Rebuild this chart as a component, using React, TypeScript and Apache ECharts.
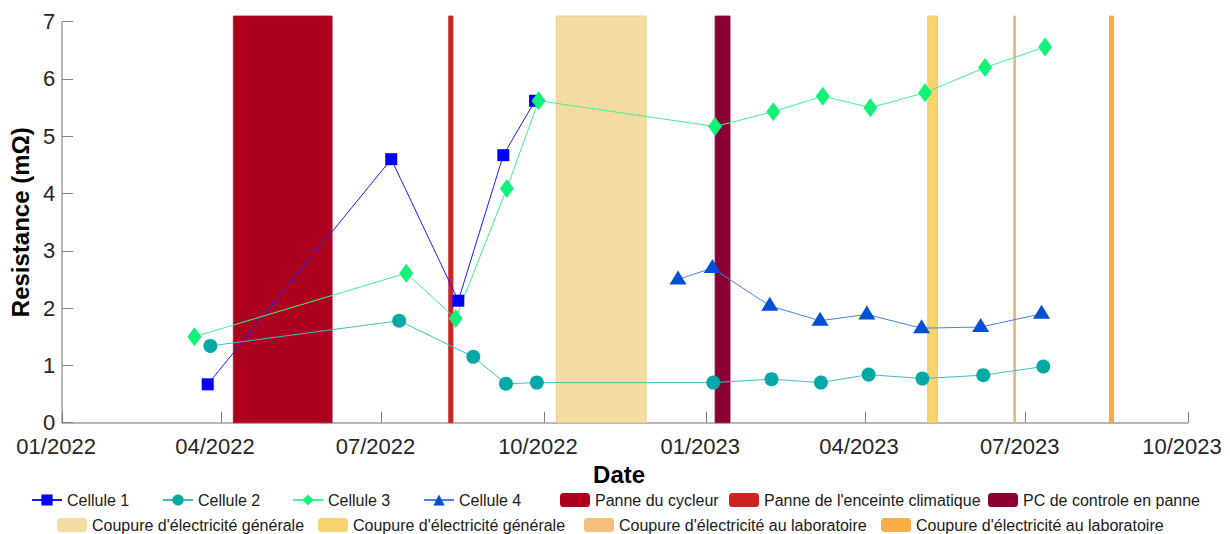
import React, { useEffect, useRef } from 'react';
import * as echarts from 'echarts';

// ---------- data ----------
const tickDates = ['2022-01-01', '2022-04-01', '2022-07-01', '2022-10-01', '2023-01-01', '2023-04-01', '2023-07-01', '2023-10-01'];
const yMin = 0;
const yMax = 7;
const bandTop = 7.1;

const cell1Dates = ['2022-03-24T12:00', '2022-07-06T12:00', '2022-08-13T12:00', '2022-09-08', '2022-09-26'];
const cell1Values = [0.67, 4.6, 2.13, 4.67, 5.62];

const cell2Dates = ['2022-03-26', '2022-07-11', '2022-08-22', '2022-09-09T12:00', '2022-09-27', '2023-01-05', '2023-02-07', '2023-03-07', '2023-04-03', '2023-05-03T12:00', '2023-06-07', '2023-07-11'];
const cell2Values = [1.34, 1.78, 1.15, 0.68, 0.7, 0.7, 0.76, 0.7, 0.84, 0.77, 0.83, 0.98];

const cell3Dates = ['2022-03-17', '2022-07-15', '2022-08-12', '2022-09-10', '2022-09-28', '2023-01-06', '2023-02-08', '2023-03-08', '2023-04-04', '2023-05-05', '2023-06-08', '2023-07-12'];
const cell3Values = [1.5, 2.61, 1.82, 4.09, 5.62, 5.17, 5.43, 5.7, 5.5, 5.76, 6.2, 6.56];

const cell4Dates = ['2022-12-16', '2023-01-04T12:00', '2023-02-06', '2023-03-06T12:00', '2023-04-02', '2023-05-03', '2023-06-05T12:00', '2023-07-10'];
const cell4Values = [2.5, 2.7, 2.04, 1.78, 1.89, 1.65, 1.67, 1.9];

const bandNames = [
  'Panne du cycleur',
  "Panne de l'enceinte climatique",
  'PC de controle en panne',
  "Coupure d'électricité générale#1",
  "Coupure d'électricité générale#2",
  "Coupure d'électricité au laboratoire#1",
  "Coupure d'électricité au laboratoire#2",
];
const bandStarts = ['2022-04-08', '2022-08-08', '2023-01-06', '2022-10-08', '2023-05-06T12:00', '2023-06-24T06:00', '2023-08-17T12:00'];
const bandEnds = ['2022-06-03', '2022-08-10T12:00', '2023-01-14T12:00', '2022-11-28', '2023-05-12', '2023-06-25T06:00', '2023-08-19T18:00'];

// ---------- styles ----------
const bandFill = ['#AD001F', '#CC2222', '#8B0035', '#F5DCA0', '#F9D46E', '#F6BE7C', '#F9AD46'];
const bandStroke = ['#B8102E', '#CC3333', '#96103F', '#E2C690', '#E8C060', '#EBAA66', '#EC9F3A'];

const FONT = "'Liberation Sans', Arial, sans-serif";

const ts = (s: string) => new Date(s.length === 10 ? s + 'T00:00:00' : s).getTime();
const pairs = (d: string[], v: number[]) => d.map((s, i) => [ts(s), v[i]]);

const legendLayout: { name: string; left: number; top: number }[] = [
  { name: 'Cellule 1', left: 31, top: 492 },
  { name: 'Cellule 2', left: 162, top: 492 },
  { name: 'Cellule 3', left: 292, top: 492 },
  { name: 'Cellule 4', left: 423, top: 492 },
  { name: bandNames[0], left: 560, top: 492 },
  { name: bandNames[1], left: 729, top: 492 },
  { name: bandNames[2], left: 988, top: 492 },
  { name: bandNames[3], left: 57, top: 517 },
  { name: bandNames[4], left: 318, top: 517 },
  { name: bandNames[5], left: 584, top: 517 },
  { name: bandNames[6], left: 881, top: 517 },
];

export default function App() {
  const ref = useRef<HTMLDivElement>(null);
  useEffect(() => {
    const chart = echarts.init(ref.current!, null, { renderer: 'svg' });
    const tickTs = tickDates.map(ts);
    const fmt = (v: number) => {
      const d = new Date(v);
      return String(d.getMonth() + 1).padStart(2, '0') + '/' + d.getFullYear();
    };

    const bandSeries = bandNames.map((name, i) => ({
      name,
      type: 'custom',
      coordinateSystem: 'cartesian2d',
      clip: false,
      z: 1,
      silent: true,
      itemStyle: { color: bandFill[i] },
      encode: { x: [0, 1], y: [2, 3] },
      data: [[ts(bandStarts[i]), ts(bandEnds[i]), yMin, bandTop]],
      renderItem: (params: any, api: any) => {
        const p0 = api.coord([api.value(0), api.value(2)]);
        const p1 = api.coord([api.value(1), api.value(3)]);
        return {
          type: 'rect',
          shape: { x: p0[0], y: p1[1], width: Math.max(p1[0] - p0[0], 1), height: p0[1] - p1[1] },
          style: { fill: bandFill[i], stroke: bandStroke[i], lineWidth: 0.8 },
        };
      },
    }));

    const lineSeries = [
      { name: 'Cellule 1', data: pairs(cell1Dates, cell1Values), symbol: 'rect', symbolSize: 12, color: '#0000FF', line: '#1A1AFF' },
      { name: 'Cellule 2', data: pairs(cell2Dates, cell2Values), symbol: 'circle', symbolSize: 14, color: '#00A9A6', line: '#3CBFBC' },
      { name: 'Cellule 3', data: pairs(cell3Dates, cell3Values), symbol: 'diamond', symbolSize: [14, 19], color: '#12F27B', line: '#3DF28F' },
      { name: 'Cellule 4', data: pairs(cell4Dates, cell4Values), symbol: 'triangle', symbolSize: [17, 14], color: '#0050D6', line: '#4C80E2', offset: [0, -2] },
    ].map((s: any) => ({
      name: s.name,
      type: 'line',
      z: 3,
      data: s.data,
      symbol: s.symbol,
      symbolSize: s.symbolSize,
      symbolOffset: s.offset || [0, 0],
      showAllSymbol: true,
      itemStyle: { color: s.color },
      lineStyle: { color: s.line, width: 1 },
      emphasis: { disabled: true },
    }));

    const legends = legendLayout.map((l) => ({
      show: true,
      data: [l.name],
      left: l.left,
      top: l.top,
      padding: 0,
      itemWidth: 30,
      itemHeight: 14,
      selectedMode: false,
      formatter: (n: string) => n.replace(/#\d$/, ''),
      textStyle: { fontSize: 16, fontFamily: FONT, color: '#1a1a1a' },
    }));

    chart.setOption({
      animation: false,
      backgroundColor: '#ffffff',
      textStyle: { fontFamily: FONT },
      grid: { left: 59, right: 42, top: 21.7, bottom: 111.3, containLabel: false },
      legend: legends,
      xAxis: {
        type: 'value',
        min: tickTs[0],
        max: tickTs[tickTs.length - 1],
        name: 'Date',
        nameLocation: 'middle',
        nameGap: 37,
        nameTextStyle: { fontSize: 24, fontWeight: 'bold', color: '#000', fontFamily: FONT, padding: [0, 12, 0, 0] },
        axisLine: { show: true, lineStyle: { color: '#A0A0A0', width: 1.5 } },
        axisTick: { show: true, inside: true, length: 11, lineStyle: { color: '#808080' }, customValues: tickTs },
        axisLabel: { fontSize: 22, color: '#262626', margin: 12.5, fontFamily: FONT, customValues: tickTs, formatter: fmt, hideOverlap: false, showMinLabel: true, showMaxLabel: true, padding: [0, 12, 0, 0] },
        splitLine: { show: false },
        minorTick: { show: false },
      },
      yAxis: {
        type: 'value',
        min: yMin,
        max: yMax,
        interval: 1,
        name: 'Resistance (mΩ)',
        nameLocation: 'middle',
        nameGap: 25,
        nameTextStyle: { fontSize: 24, fontWeight: 'bold', color: '#000', fontFamily: FONT },
        axisLine: { show: true, lineStyle: { color: '#A0A0A0', width: 1.5 } },
        axisTick: { show: true, inside: true, length: 11, lineStyle: { color: '#808080' } },
        axisLabel: { fontSize: 22, color: '#262626', margin: 7, fontFamily: FONT },
        splitLine: { show: false },
      },
      series: [...bandSeries, ...lineSeries],
    });
    return () => chart.dispose();
  }, []);
  return <div ref={ref} style={{ position: 'fixed', left: 0, top: 0, width: 1230, height: 534 }} />;
}
